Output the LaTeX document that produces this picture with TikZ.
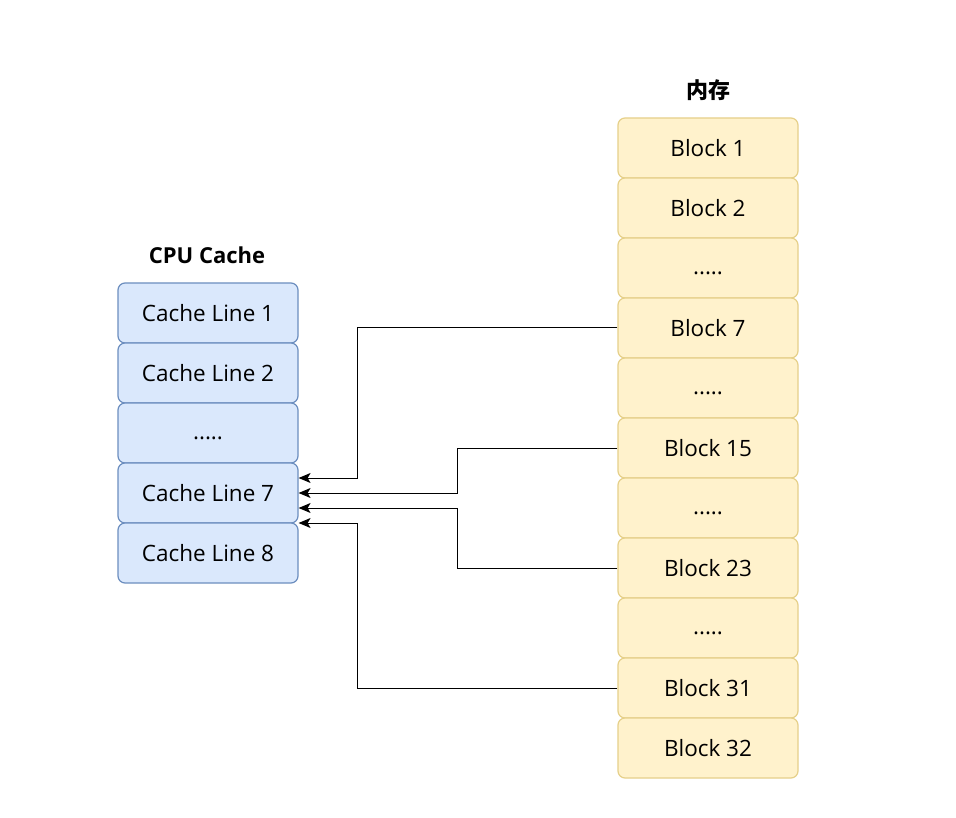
\documentclass[tikz,border=0pt]{standalone}
\usepackage{fontspec}
\setmainfont{Open Sans}
\newfontfamily\cjk{Noto Sans CJK SC}
\usetikzlibrary{arrows.meta}
\definecolor{bluefill}{HTML}{DAE8FC}
\definecolor{bluedraw}{HTML}{6C8EBF}
\definecolor{yelfill}{HTML}{FFF2CC}
\definecolor{yeldraw}{HTML}{E6D08A}
\tikzset{
  cachebox/.style={draw=bluedraw, fill=bluefill, line width=1.2pt, rounded corners=7pt,
    minimum width=180pt, minimum height=60pt, inner sep=0pt, font=\fontsize{22.5}{26}\selectfont},
  memblock/.style={draw=yeldraw, fill=yelfill, line width=1.2pt, rounded corners=7pt,
    minimum width=180pt, minimum height=60pt, inner sep=0pt, font=\fontsize{22.5}{26}\selectfont},
  dotsbox/.style={text depth=0pt, yshift=-4pt},
  title/.style={font=\fontsize{22}{26}\selectfont\bfseries},
  arr/.style={draw=black, line width=1pt, -{Stealth[length=12pt,width=10pt,inset=3pt]}}
}
\begin{document}
\begin{tikzpicture}[x=1pt,y=-1pt]
\useasboundingbox (0,0) rectangle (956,818);
\fill[white] (0,0) rectangle (956,818);
% CPU cache
\node[title] (ctitle) at (207,255) {CPU Cache};
\node[cachebox] (c1) at (208,313) {Cache Line 1};
\node[cachebox] (c2) at (208,373) {Cache Line 2};
\node[cachebox] (c3) at (208,433) {};
\node (c3t) at ([yshift=-5pt]c3.center) {\fontsize{22.5}{26}\selectfont .....};
\node[cachebox] (c7) at (208,493) {Cache Line 7};
\node[cachebox] (c8) at (208,553) {Cache Line 8};
% memory
\node[title] (mtitle) at (708,90) {\cjk 内存};
\node[memblock] (b1) at (708,148) {Block 1};
\node[memblock] (b2) at (708,208) {Block 2};
\node[memblock] (d1) at (708,268) {};
\node (d1t) at ([yshift=-5pt]d1.center) {\fontsize{22.5}{26}\selectfont .....};
\node[memblock] (b7) at (708,328) {Block 7};
\node[memblock] (d2) at (708,388) {};
\node (d2t) at ([yshift=-5pt]d2.center) {\fontsize{22.5}{26}\selectfont .....};
\node[memblock] (b15) at (708,448) {Block 15};
\node[memblock] (d3) at (708,508) {};
\node (d3t) at ([yshift=-5pt]d3.center) {\fontsize{22.5}{26}\selectfont .....};
\node[memblock] (b23) at (708,568) {Block 23};
\node[memblock] (d4) at (708,628) {};
\node (d4t) at ([yshift=-5pt]d4.center) {\fontsize{22.5}{26}\selectfont .....};
\node[memblock] (b31) at (708,688) {Block 31};
\node[memblock] (b32) at (708,748) {Block 32};
% connectors
\draw[arr] (b7.west) -- ++(-260,0) |- ([yshift=15pt]c7.east);
\draw[arr] (b15.west) -- ++(-160,0) |- ([yshift=0pt]c7.east);
\draw[arr] (b23.west) -- ++(-160,0) |- ([yshift=-15pt]c7.east);
\draw[arr] (b31.west) -- ++(-260,0) |- ([yshift=-30pt]c7.east);
\end{tikzpicture}
\end{document}
